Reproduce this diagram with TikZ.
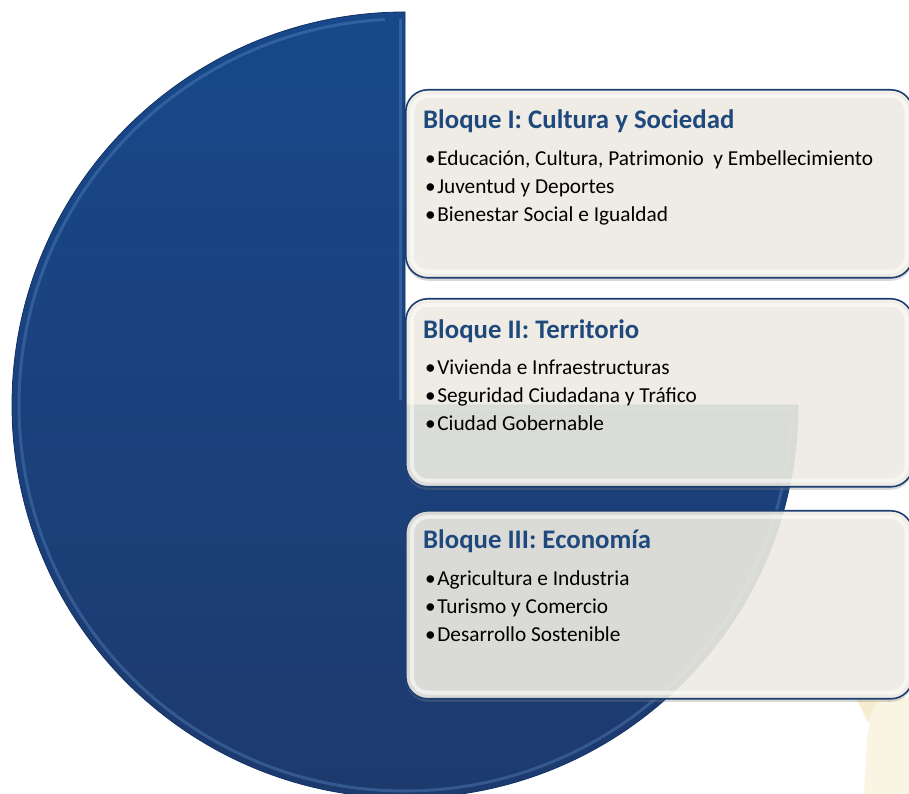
\documentclass[tikz,border=0pt]{standalone}
\usepackage{fontspec}
\setmainfont{Carlito}
\usetikzlibrary{positioning,shadows}

\definecolor{pietop}{RGB}{24,72,138}
\definecolor{piebot}{RGB}{29,58,110}
\definecolor{pieedge}{RGB}{18,50,100}
\definecolor{piehigh}{RGB}{95,145,205}
\definecolor{boxfill}{RGB}{241,239,229}
\definecolor{boxline}{RGB}{28,62,112}
\definecolor{titleblue}{RGB}{31,73,125}
\definecolor{paper}{RGB}{250,244,226}
\definecolor{paperdark}{RGB}{243,229,190}

\begin{document}
\begin{tikzpicture}[x=1pt,y=1pt,
    bloque/.style={draw=boxline,line width=1.6pt,rounded corners=22pt,fill=boxfill,fill opacity=0.88,
      minimum width=507pt,minimum height=188pt,anchor=north west,inner sep=0pt,
      drop shadow={shadow xshift=0pt,shadow yshift=-3pt,opacity=0.3}},
    brillo/.style={draw=white,line width=4pt,opacity=0.55,rounded corners=16pt},
    titulo/.style={font=\fontsize{26.8}{30}\selectfont\bfseries,text=titleblue,anchor=base west,inner sep=0pt},
    lista/.style={font=\fontsize{21.3}{27.7}\selectfont,anchor=north west,inner sep=0pt,align=left}]
  \useasboundingbox (0,0) rectangle (909,794);

  % paper behind, bottom right
  \fill[paper] (855,97) -- (909,97) -- (909,0) -- (864,0) -- (867,55) -- (870,72) -- (860,88) -- cycle;
  \fill[paperdark,opacity=0.5] (855,97) -- (880,97) -- (872,84) -- (868,70) -- (860,88) -- cycle;

  % three quarter disc
  \coordinate (c) at (405,389);
  \shade[top color=pietop,bottom color=piebot,draw=pieedge,line width=0.8pt]
    (c) -- ++(0,393) arc[start angle=90,end angle=360,radius=393] -- cycle;
  \draw[piehigh,line width=3pt,opacity=0.35]
    ([shift={(-5,5)}]c) -- ([shift={(-5,386)}]c);
  \draw[piehigh,line width=3pt,opacity=0.35]
    ([shift={(93:386)}]c) arc[start angle=93,end angle=357,radius=386];
  \draw[piehigh,line width=3pt,opacity=0.3]
    ([shift={(5,-5)}]c) -- ([shift={(386,-5)}]c);

  % blocks
  \node[bloque] (blk1) at (405,705) {};
  \node[bloque] (blk2) at (405,496) {};
  \node[bloque] (blk3) at (405,284) {};
  \draw[brillo] ([shift={(7,-7)}]blk1.north west) rectangle ([shift={(-7,7)}]blk1.south east);
  \draw[brillo] ([shift={(7,-7)}]blk2.north west) rectangle ([shift={(-7,7)}]blk2.south east);
  \draw[brillo] ([shift={(7,-7)}]blk3.north west) rectangle ([shift={(-7,7)}]blk3.south east);

  \node[titulo] (tit1) at ([shift={(18,-40)}]blk1.north west) {Bloque I: Cultura y Sociedad};
  \node[titulo] (tit2) at ([shift={(18,-41)}]blk2.north west) {Bloque II: Territorio};
  \node[titulo] (tit3) at ([shift={(18,-39)}]blk3.north west) {Bloque III: Economía};

  \node[lista] (lst1) [below right=62pt and 20pt of blk1.north west]
    {\textbullet\hspace{1.5pt}Educación, Cultura, Patrimonio\ \ y Embellecimiento\\
     \textbullet\hspace{1.5pt}Juventud y Deportes\\
     \textbullet\hspace{1.5pt}Bienestar Social e Igualdad};
  \node[lista] (lst2) [below right=62pt and 20pt of blk2.north west]
    {\textbullet\hspace{1.5pt}Vivienda e Infraestructuras\\
     \textbullet\hspace{1.5pt}Seguridad Ciudadana y Tráfico\\
     \textbullet\hspace{1.5pt}Ciudad Gobernable};
  \node[lista] (lst3) [below right=61pt and 20pt of blk3.north west]
    {\textbullet\hspace{1.5pt}Agricultura e Industria\\
     \textbullet\hspace{1.5pt}Turismo y Comercio\\
     \textbullet\hspace{1.5pt}Desarrollo Sostenible};
\end{tikzpicture}
\end{document}
